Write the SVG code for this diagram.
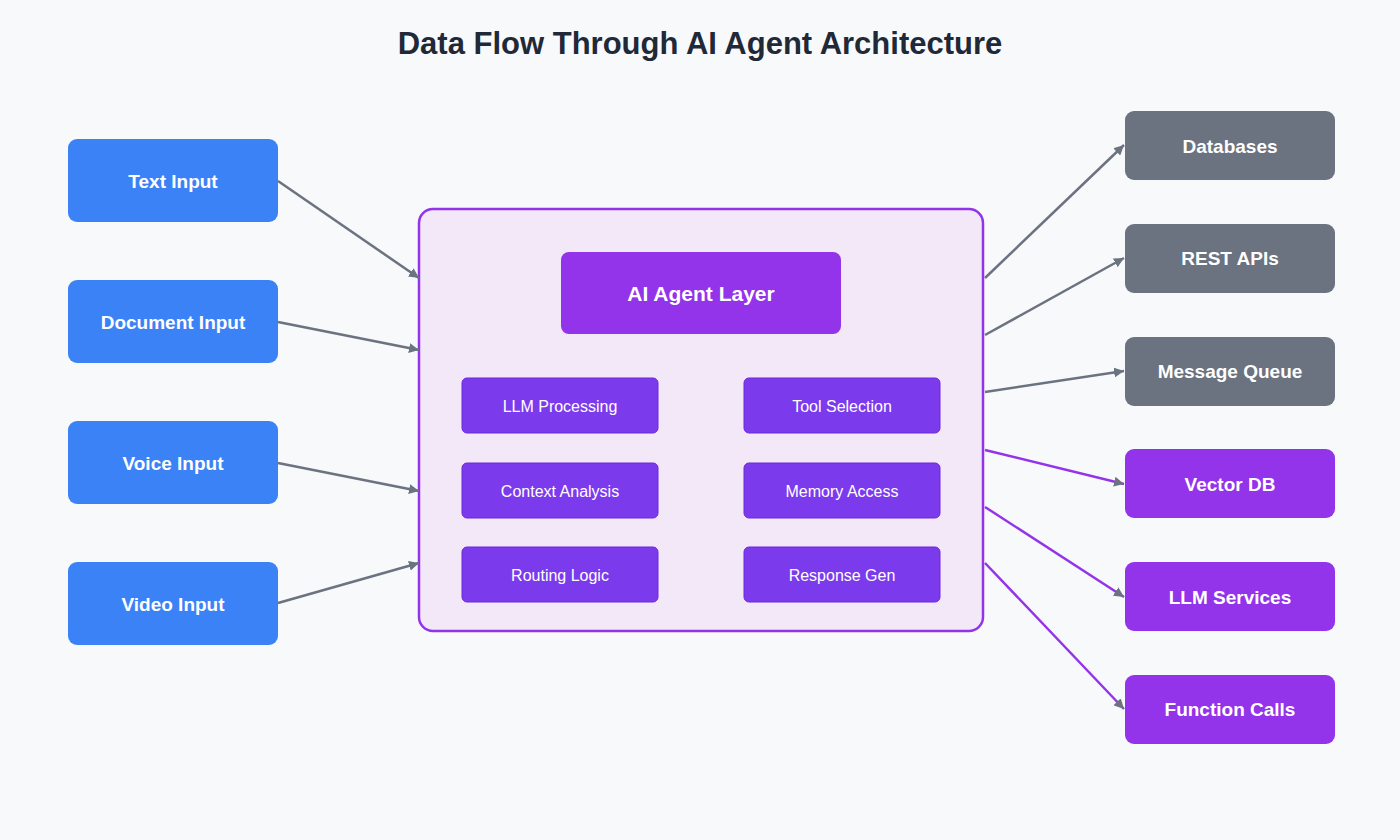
<svg xmlns="http://www.w3.org/2000/svg" width="1400" height="840" viewBox="0 0 1400 840">
<style>
text{font-family:"Liberation Sans",Arial,sans-serif;text-anchor:middle;dominant-baseline:central;fill:#fff}
.title{font-size:31px;font-weight:bold;fill:#1f2937}
.in rect{fill:#3b82f6}
.in text,.out text{font-size:19px;font-weight:bold}
.g rect{fill:#6b7280}
.p rect{fill:#9333ea}
.sub rect{fill:#7c3aed;stroke:#6d28d9;stroke-width:1}
.sub text{font-size:16px}
.c line{stroke:#6b7280;stroke-width:2.5}
.c line.pl{stroke:#9333ea}
</style>
<defs>
<marker id="ag" viewBox="0 0 10 10" refX="10" refY="5" markerWidth="10" markerHeight="10" markerUnits="userSpaceOnUse" orient="auto"><path d="M0,0L10,5L0,10z" fill="#6b7280"/></marker>
</defs>
<rect width="1400" height="840" fill="#f8f9fb"/>
<text class="title" x="700" y="43">Data Flow Through AI Agent Architecture</text>
<g id="agent"><rect x="419" y="209" width="564" height="422" rx="14" fill="#f3e8f8" stroke="#9333ea" stroke-width="2.5"/></g>
<g id="agent-layer" class="p out"><rect x="561" y="252" width="280" height="82" rx="8"/><text x="701" y="293" style="font-size:21px">AI Agent Layer</text></g>
<g id="llm-processing" class="sub"><rect x="462" y="378" width="196" height="55" rx="5"/><text x="560" y="406">LLM Processing</text></g>
<g id="context-analysis" class="sub"><rect x="462" y="463" width="196" height="55" rx="5"/><text x="560" y="491">Context Analysis</text></g>
<g id="routing-logic" class="sub"><rect x="462" y="547" width="196" height="55" rx="5"/><text x="560" y="575">Routing Logic</text></g>
<g id="tool-selection" class="sub"><rect x="744" y="378" width="196" height="55" rx="5"/><text x="842" y="406">Tool Selection</text></g>
<g id="memory-access" class="sub"><rect x="744" y="463" width="196" height="55" rx="5"/><text x="842" y="491">Memory Access</text></g>
<g id="response-gen" class="sub"><rect x="744" y="547" width="196" height="55" rx="5"/><text x="842" y="575">Response Gen</text></g>
<g id="text-input" class="in"><rect x="68" y="139" width="210" height="83" rx="9"/><text x="173" y="181">Text Input</text></g>
<g id="document-input" class="in"><rect x="68" y="280" width="210" height="83" rx="9"/><text x="173" y="322">Document Input</text></g>
<g id="voice-input" class="in"><rect x="68" y="421" width="210" height="83" rx="9"/><text x="173" y="463">Voice Input</text></g>
<g id="video-input" class="in"><rect x="68" y="562" width="210" height="83" rx="9"/><text x="173" y="604">Video Input</text></g>
<g id="databases" class="out g"><rect x="1125" y="111" width="210" height="69" rx="9"/><text x="1230" y="146">Databases</text></g>
<g id="rest-apis" class="out g"><rect x="1125" y="224" width="210" height="69" rx="9"/><text x="1230" y="258">REST APIs</text></g>
<g id="message-queue" class="out g"><rect x="1125" y="337" width="210" height="69" rx="9"/><text x="1230" y="371">Message Queue</text></g>
<g id="vector-db" class="out p"><rect x="1125" y="449" width="210" height="69" rx="9"/><text x="1230" y="484">Vector DB</text></g>
<g id="llm-services" class="out p"><rect x="1125" y="562" width="210" height="69" rx="9"/><text x="1230" y="597">LLM Services</text></g>
<g id="function-calls" class="out p"><rect x="1125" y="675" width="210" height="69" rx="9"/><text x="1230" y="709">Function Calls</text></g>
<g id="connectors" class="c">
<line x1="278" y1="181" x2="419" y2="278" marker-end="url(#ag)"/>
<line x1="278" y1="322" x2="419" y2="350" marker-end="url(#ag)"/>
<line x1="278" y1="463" x2="419" y2="491" marker-end="url(#ag)"/>
<line x1="278" y1="603" x2="419" y2="563" marker-end="url(#ag)"/>
<line x1="985" y1="278" x2="1124" y2="145" marker-end="url(#ag)"/>
<line x1="985" y1="335" x2="1124" y2="258" marker-end="url(#ag)"/>
<line x1="985" y1="392" x2="1124" y2="371" marker-end="url(#ag)"/>
<line class="pl" x1="985" y1="450" x2="1124" y2="484" marker-end="url(#ag)"/>
<line class="pl" x1="985" y1="507" x2="1124" y2="597" marker-end="url(#ag)"/>
<line class="pl" x1="985" y1="563" x2="1124" y2="709" marker-end="url(#ag)"/>
</g>
</svg>
